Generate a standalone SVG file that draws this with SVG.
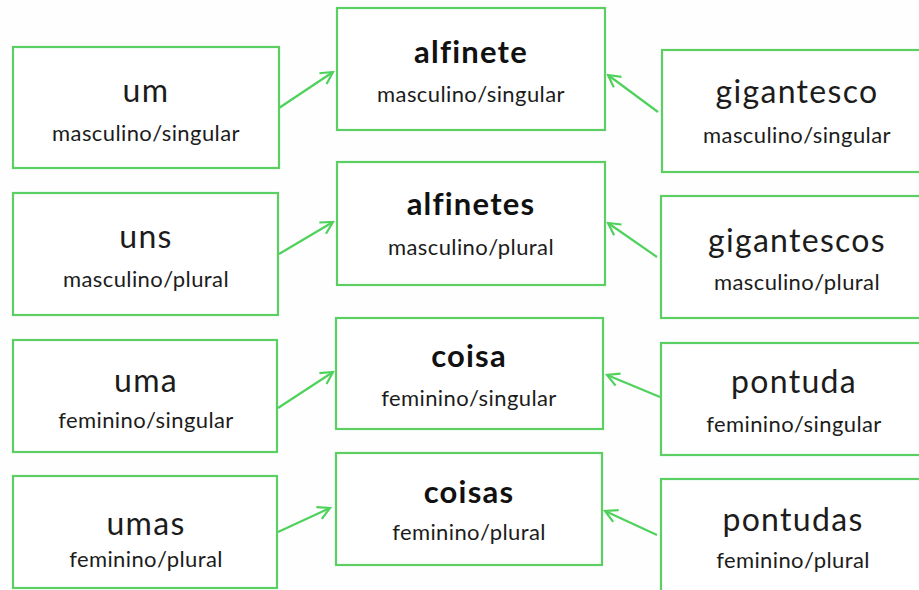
<svg xmlns="http://www.w3.org/2000/svg" width="919" height="590" viewBox="0 0 919 590">
<style>
.box{fill:#ffffff;stroke:#5ccf63;stroke-width:2.2}
text{font-family:Lato,"Noto Sans",sans-serif;text-anchor:middle;font-variant-ligatures:none}
.t{font-size:32px;letter-spacing:1.3px;fill:#1c1c1c}
.b{font-size:31px;letter-spacing:1.2px;font-weight:bold;fill:#111}
.s{font-size:22px;letter-spacing:0.4px;fill:#1c1c1c}
.c{stroke:#4fd25c;stroke-width:2.2;fill:none}
</style>
<defs>
<marker id="ah" markerUnits="userSpaceOnUse" markerWidth="16" markerHeight="16" refX="14" refY="8" orient="auto">
<path d="M2,1.5 L14,8 L2,14.5" fill="none" stroke="#4fd25c" stroke-width="2.2"/>
</marker>
</defs>
<rect width="919" height="590" fill="#fefefe"/>
<g id="um"><rect class="box" x="13" y="47" width="266" height="121"/><text class="t" x="146" y="102">um</text><text class="s" x="146" y="141">masculino/singular</text></g>
<g id="uns"><rect class="box" x="13" y="193" width="265" height="122"/><text class="t" x="146" y="248">uns</text><text class="s" x="146" y="287">masculino/plural</text></g>
<g id="uma"><rect class="box" x="13" y="340" width="264" height="112"/><text class="t" x="146" y="392">uma</text><text class="s" x="146" y="428">feminino/singular</text></g>
<g id="umas"><rect class="box" x="13" y="476" width="264" height="112"/><text class="t" x="146" y="535">umas</text><text class="s" x="146" y="567">feminino/plural</text></g>
<g id="alfinete"><rect class="box" x="337" y="8" width="268" height="122"/><text class="b" x="471" y="63">alfinete</text><text class="s" x="471" y="102">masculino/singular</text></g>
<g id="alfinetes"><rect class="box" x="337" y="162" width="268" height="123"/><text class="b" x="471" y="215">alfinetes</text><text class="s" x="471" y="255">masculino/plural</text></g>
<g id="coisa"><rect class="box" x="336" y="318" width="267" height="111"/><text class="b" x="469" y="367">coisa</text><text class="s" x="469" y="406">feminino/singular</text></g>
<g id="coisas"><rect class="box" x="336" y="453" width="266" height="112"/><text class="b" x="469" y="503">coisas</text><text class="s" x="469" y="540">feminino/plural</text></g>
<g id="gigantesco"><rect class="box" x="662" y="50" width="270" height="122"/><text class="t" x="797" y="103">gigantesco</text><text class="s" x="797" y="143">masculino/singular</text></g>
<g id="gigantescos"><rect class="box" x="661" y="196" width="271" height="122"/><text class="t" x="797" y="252">gigantescos</text><text class="s" x="797" y="290">masculino/plural</text></g>
<g id="pontuda"><rect class="box" x="661" y="343" width="271" height="112"/><text class="t" x="794" y="393">pontuda</text><text class="s" x="794" y="432">feminino/singular</text></g>
<g id="pontudas"><rect class="box" x="661" y="479" width="271" height="120"/><text class="t" x="793" y="531">pontudas</text><text class="s" x="793" y="568">feminino/plural</text></g>
<g id="connectors">
<line class="c" x1="279" y1="108" x2="333" y2="72" marker-end="url(#ah)"/>
<line class="c" x1="279" y1="254" x2="333" y2="222" marker-end="url(#ah)"/>
<line class="c" x1="278" y1="408" x2="333" y2="372" marker-end="url(#ah)"/>
<line class="c" x1="278" y1="532" x2="330" y2="508" marker-end="url(#ah)"/>
<line class="c" x1="658" y1="112" x2="608" y2="75" marker-end="url(#ah)"/>
<line class="c" x1="657" y1="257" x2="608" y2="223" marker-end="url(#ah)"/>
<line class="c" x1="660" y1="397" x2="607" y2="375" marker-end="url(#ah)"/>
<line class="c" x1="657" y1="535" x2="605" y2="511" marker-end="url(#ah)"/>
</g>
</svg>
